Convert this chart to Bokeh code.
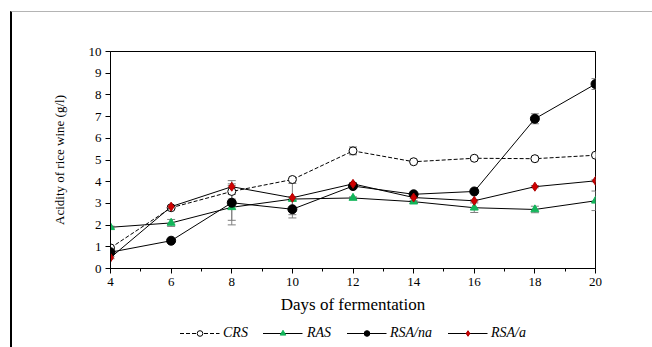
from bokeh.plotting import figure
from bokeh.layouts import column
from bokeh.models import (ColumnDataSource, FixedTicker, Legend, LegendItem,
                          Whisker, TeeHead, Range1d)
from bokeh.embed import file_html
from bokeh.resources import INLINE

days = [4, 6, 8, 10, 12, 14, 16, 18, 20]
crs = [0.95, 2.8, 3.55, 4.1, 5.42, 4.92, 5.08, 5.06, 5.22]
ras = [1.9, 2.1, 2.82, 3.2, 3.25, 3.08, 2.8, 2.72, 3.12]
rsa_na = [0.75, 1.28, 3.03, 2.73, 3.8, 3.42, 3.55, 6.9, 8.5]
rsa_a = [0.5, 2.85, 3.77, 3.26, 3.9, 3.27, 3.12, 3.77, 4.04]

crs_err = [0.05, 0.05, 0.35, 0.05, 0.18, 0.05, 0.05, 0.05, 0.05]
ras_err = [0.05, 0.16, 0.6, 0.72, 0.05, 0.05, 0.22, 0.15, 0.45]
rsa_na_err = [0.05, 0.05, 1.02, 0.4, 0.05, 0.05, 0.05, 0.23, 0.25]
rsa_a_err = [0.05, 0.05, 0.05, 0.05, 0.05, 0.05, 0.05, 0.05, 0.05]

labels = ["CRS", "RAS", "RSA/na", "RSA/a"]
x_ticks = [4, 6, 8, 10, 12, 14, 16, 18, 20]
x_minor = [5, 7, 9, 11, 13, 15, 17, 19]
y_ticks = [0, 1, 2, 3, 4, 5, 6, 7, 8, 9, 10]

SERIF = "Liberation Serif"

p = figure(width=640, height=306, x_range=(4, 20), y_range=(0, 10),
           output_backend="svg", toolbar_location=None,
           min_border_left=98, min_border_right=57,
           min_border_top=39, min_border_bottom=50)

p.grid.visible = False
p.outline_line_color = "black"
p.outline_line_width = 1
p.background_fill_color = "white"
p.border_fill_color = "white"

p.xaxis.ticker = FixedTicker(ticks=x_ticks, minor_ticks=x_minor)
p.yaxis.ticker = FixedTicker(ticks=y_ticks, minor_ticks=[])
for ax in (p.xaxis, p.yaxis):
    ax.axis_line_color = "black"
    ax.major_tick_line_color = "black"
    ax.minor_tick_line_color = "black"
    ax.major_tick_in = 0
    ax.major_tick_out = 5
    ax.minor_tick_in = 0
    ax.minor_tick_out = 3
    ax.major_label_text_font = SERIF
    ax.major_label_text_font_size = "13px"
    ax.major_label_text_color = "black"
    ax.axis_label_text_font = SERIF
    ax.axis_label_text_font_style = "normal"
    ax.axis_label_text_color = "black"

p.xaxis.axis_label = "Days of fermentation"
p.xaxis.axis_label_text_font_size = "17px"
p.xaxis.major_label_standoff = 4
p.xaxis.axis_label_standoff = 6
p.yaxis.axis_label = "Acidity of rice wine (g/l)"
p.yaxis.axis_label_text_font_size = "13px"
p.yaxis.major_label_standoff = 4
p.yaxis.axis_label_standoff = 19

# legend strip (its own small figure; the data lie outside its view)
pl = figure(width=640, height=29, x_range=Range1d(-20, -19), y_range=Range1d(-20, -19),
            output_backend="svg", toolbar_location=None,
            min_border_left=46, min_border_right=0, min_border_top=0, min_border_bottom=0)
pl.axis.visible = False
pl.grid.visible = False
pl.outline_line_color = None
pl.background_fill_color = "white"
pl.border_fill_color = "white"

series = [
    (crs, crs_err, dict(line_dash="4 2"), dict(marker="circle", size=8, fill_color="white", line_color="black")),
    (ras, ras_err, dict(), dict(marker="triangle", size=8, fill_color="#12b55a", line_color="#12b55a")),
    (rsa_na, rsa_na_err, dict(), dict(marker="circle", size=9, fill_color="black", line_color="black")),
    (rsa_a, rsa_a_err, dict(), dict(marker="diamond", size=9, fill_color="#d00000", line_color="#b00000")),
]

items = []
for name, (vals, errs, lkw, mkw) in zip(labels, series):
    src = ColumnDataSource(data=dict(
        x=days, y=vals,
        upper=[v + e for v, e in zip(vals, errs)],
        lower=[v - e for v, e in zip(vals, errs)]))
    w = Whisker(source=src, base="x", upper="upper", lower="lower",
                line_color="#7f7f7f", line_width=1, level="underlay",
                upper_head=TeeHead(size=8, line_color="#7f7f7f", line_width=1),
                lower_head=TeeHead(size=8, line_color="#7f7f7f", line_width=1))
    p.add_layout(w)
    p.line("x", "y", source=src, line_color="black", line_width=1, **lkw)
    p.scatter("x", "y", source=src, line_width=1, **mkw)
    ln2 = pl.line("x", "y", source=src, line_color="black", line_width=1, **lkw)
    sc2 = pl.scatter("x", "y", source=src, line_width=1, **mkw)
    items.append(LegendItem(label=name, renderers=[ln2, sc2]))

legend = Legend(items=items, orientation="horizontal", location="center",
                glyph_width=40, glyph_height=14, spacing=15, label_standoff=4,
                padding=0, margin=0, border_line_color=None,
                background_fill_alpha=0,
                label_text_font=SERIF, label_text_font_style="italic",
                label_text_font_size="14px", label_text_color="black")
pl.add_layout(legend, "center")

layout = column(p, pl, spacing=0,
                styles={"margin-left": "10px", "margin-top": "11px",
                        "border-top": "1px solid #b4b4b4", "border-left": "2px solid #000"})

open("out.html", "w").write(file_html(layout, INLINE))
